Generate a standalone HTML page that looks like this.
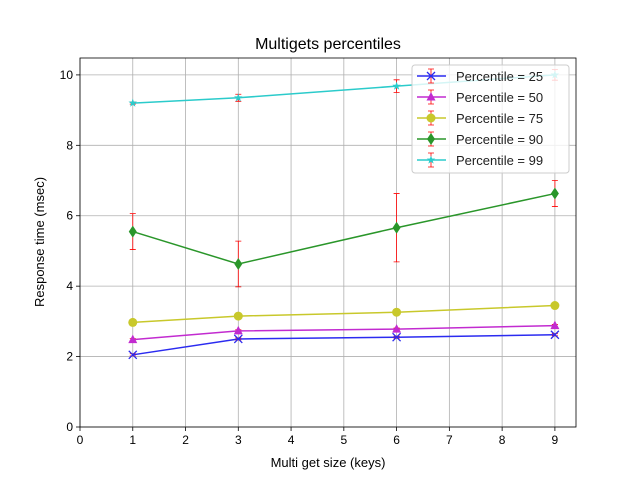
<!DOCTYPE html>
<html><head><meta charset="utf-8"><style>body{margin:0;background:#fff}svg{display:block;font-family:"Liberation Sans","DejaVu Sans",sans-serif}</style></head>
<body>
<svg id="chart" width="640" height="480" xmlns="http://www.w3.org/2000/svg"></svg>
<script>
const xs = [1, 3, 6, 9];
const labels = ["Percentile = 25","Percentile = 50","Percentile = 75","Percentile = 90","Percentile = 99"];
const p25 = [2.05, 2.5, 2.55, 2.62];
const p50 = [2.48, 2.73, 2.78, 2.88];
const p75 = [2.97, 3.15, 3.26, 3.45];
const p90 = [5.55, 4.63, 5.66, 6.63];
const p99 = [9.2, 9.35, 9.68, 10.0];
const err25 = [0.03, 0.03, 0.03, 0.03];
const err50 = [0.03, 0.03, 0.03, 0.03];
const err75 = [0.04, 0.04, 0.04, 0.04];
const err90 = [0.51, 0.65, 0.97, 0.37];
const err99 = [0.03, 0.1, 0.18, 0.15];
const xTicks = [0,1,2,3,4,5,6,7,8,9];
const yTicks = [0,2,4,6,8,10];
const colors = ["#2b2bf0","#c22bd0","#c8c82b","#2a962a","#2bcbcb"];
const markers = ["x","^","o","d","*"];

const L=80,R=576,T=58,B=427, XMAX=9.4, YMAX=10.48;
const X=v=>L+v/XMAX*(R-L), Y=v=>B-v/YMAX*(B-T);
const svg=document.getElementById('chart');
const NS="http://www.w3.org/2000/svg";
function mk(tag,at,parent){const e=document.createElementNS(NS,tag);for(const k in at)e.setAttribute(k,at[k]);(parent||svg).appendChild(e);return e;}

const grid=mk('g',{});


xTicks.forEach(t=>{
 mk('line',{x1:X(t),x2:X(t),y1:T,y2:B,stroke:'#b0b0b0','stroke-width':0.8},grid);
 mk('line',{x1:X(t),x2:X(t),y1:B,y2:B+4,stroke:'#000','stroke-width':0.8},grid);
 const tx=mk('text',{x:X(t),y:B+17,'text-anchor':'middle','font-size':12},grid);tx.textContent=t;
 
 
});
yTicks.forEach(t=>{
 mk('line',{x1:L,x2:R,y1:Y(t),y2:Y(t),stroke:'#b0b0b0','stroke-width':0.8},grid);
 mk('line',{x1:L-4,x2:L,y1:Y(t),y2:Y(t),stroke:'#000','stroke-width':0.8},grid);
 const tx=mk('text',{x:L-7,y:Y(t)+4,'text-anchor':'end','font-size':12},grid);tx.textContent=t;
 
 
});

function marker(type,x,y,c,g){
 if(type==='x'){mk('path',{d:`M${x-4},${y-4}L${x+4},${y+4}M${x-4},${y+4}L${x+4},${y-4}`,stroke:c,'stroke-width':1.3,fill:'none'},g);}
 else if(type==='^'){mk('path',{d:`M${x},${y-5}L${x+4.5},${y+3.5}L${x-4.5},${y+3.5}Z`,fill:c},g);}
 else if(type==='o'){mk('circle',{cx:x,cy:y,r:4.5,fill:c},g);}
 else if(type==='d'){mk('path',{d:`M${x},${y-6}L${x+4},${y}L${x},${y+6}L${x-4},${y}Z`,fill:c},g);}
 else {let d='';for(let i=0;i<10;i++){const r=i%2?1.8:4.5,a=-Math.PI/2+i*Math.PI/5;d+=(i?'L':'M')+(x+r*Math.cos(a))+','+(y+r*Math.sin(a));}mk('path',{d:d+'Z',fill:c},g);}
}
const series=[p25,p50,p75,p90,p99], errs=[err25,err50,err75,err90,err99];
series.forEach((s,i)=>{
 const g=mk('g',{});
 
 
 mk('polyline',{points:s.map((v,j)=>X(xs[j])+','+Y(v)).join(' '),fill:'none',stroke:colors[i],'stroke-width':1.5},g);
 s.forEach((v,j)=>{
  const x=X(xs[j]),e=errs[i][j];
  mk('path',{d:`M${x},${Y(v-e)}L${x},${Y(v+e)}M${x-3},${Y(v-e)}L${x+3},${Y(v-e)}M${x-3},${Y(v+e)}L${x+3},${Y(v+e)}`,stroke:'#f00','stroke-width':0.8},g);
 });
 s.forEach((v,j)=>marker(markers[i],X(xs[j]),Y(v),colors[i],g));
});
mk('rect',{x:L,y:T,width:R-L,height:B-T,fill:'none',stroke:'#000','stroke-width':0.8});

const lg=mk('g',{});


mk('rect',{x:412,y:65,width:157,height:108,rx:3,fill:'#fff','fill-opacity':0.8,stroke:'#ccc'},lg);
labels.forEach((l,i)=>{
 const y=76+i*21;
 const e=mk('g',{},lg);
 
 
 mk('line',{x1:417,x2:446,y1:y,y2:y,stroke:colors[i],'stroke-width':1.5},e);
 mk('path',{d:`M431,${y-7}L431,${y+7}M428,${y-7}L434,${y-7}M428,${y+7}L434,${y+7}`,stroke:'#f00','stroke-width':0.8},e);
 marker(markers[i],431,y,colors[i],e);
 const t=mk('text',{x:456,y:y+5,'font-size':13,fill:'#222'},e);t.textContent=l;
});

const tt=mk('text',{x:328,y:49,'text-anchor':'middle','font-size':16});tt.textContent='Multigets percentiles';

const xl=mk('text',{x:328,y:467,'text-anchor':'middle','font-size':13});xl.textContent='Multi get size (keys)';

const yl=mk('text',{x:44,y:242,'text-anchor':'middle','font-size':13,transform:'rotate(-90 44 242)'});yl.textContent='Response time (msec)';

</script>
</body></html>
